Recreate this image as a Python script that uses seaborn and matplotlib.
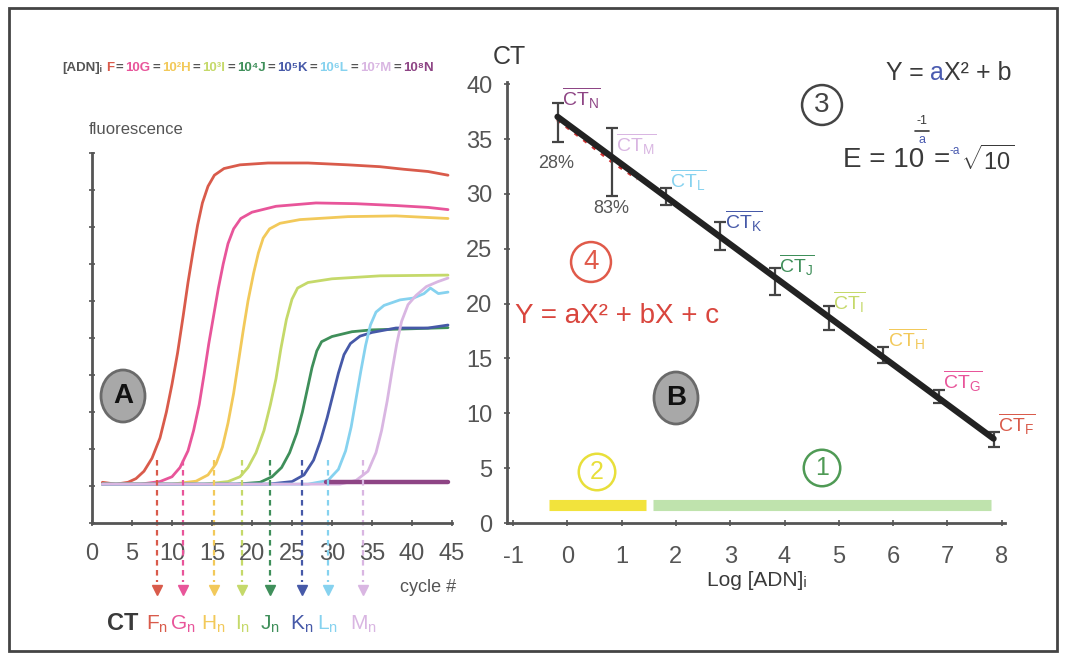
"""
qPCR figure: (A) amplification curves of a dilution series,
(B) standard curve CT vs log[ADN] with linear / quadratic ranges.
"""

import matplotlib

matplotlib.use("Agg")
import matplotlib.pyplot as plt
import pandas as pd
import seaborn as sns
from matplotlib.lines import Line2D
from matplotlib.patches import Ellipse, Rectangle
from matplotlib.text import Annotation

W, H = 1065, 656

# --- panel A: amplification curves (cycle, fluorescence) ---
F_cyc = [1.3, 3.0, 4.5, 5.5, 6.5, 7.5, 8.5, 9.3, 10.0, 10.7, 11.4, 12.0, 12.6, 13.2,
         13.8, 14.5, 15.3, 16.5, 18.5, 22, 27, 32, 36, 39, 42, 44.5]
F_flu = [11.0, 10.5, 11.0, 12.0, 14.0, 17.5, 23.0, 30.0, 37.5, 46.0, 56.0, 65.0, 73.0, 80.5,
         86.5, 91.0, 94.0, 95.8, 96.8, 97.3, 97.3, 96.8, 96.3, 95.6, 95.0, 94.0]
G_cyc = [1.3, 6, 8.5, 10, 11, 12, 12.7, 13.4, 14.0, 14.6, 15.2, 15.8, 16.4, 17.0,
         17.7, 18.6, 20, 23, 28, 33, 38, 42, 44.5]
G_flu = [10.5, 10.5, 11.2, 12.5, 15.0, 19.5, 25.0, 32.0, 40.0, 48.5, 56.0, 63.5, 70.0, 75.5,
         79.5, 82.3, 84.0, 85.6, 86.5, 86.3, 85.8, 85.3, 84.7]
H_cyc = [1.3, 10, 13, 14.5, 15.5, 16.3, 17.0, 17.7, 18.3, 18.9, 19.5, 20.2, 20.8, 21.4,
         22.2, 23.5, 26, 32, 38, 44.5]
H_flu = [10.5, 10.5, 11.3, 13.0, 16.0, 20.5, 27.0, 35.0, 43.5, 52.0, 60.0, 67.5, 73.0, 77.0,
         79.5, 81.0, 82.0, 82.8, 83.0, 82.3]
I_cyc = [1.3, 14, 17, 18.5, 19.5, 20.5, 21.5, 22.3, 23.0, 23.6, 24.3, 25.0, 25.7, 27,
         30, 36, 44.5]
I_flu = [10.5, 10.5, 11.2, 12.5, 15.0, 19.0, 25.0, 32.0, 39.0, 47.0, 55.0, 60.5, 63.5, 65.0,
         66.0, 66.8, 67.0]
J_cyc = [1.3, 18, 21, 22.5, 23.7, 24.7, 25.6, 26.3, 26.9, 27.5, 28.1, 28.7, 30, 32.5,
         35, 40, 44.5]
J_flu = [10.5, 10.5, 11.0, 12.5, 15.0, 19.0, 24.3, 30.0, 36.0, 42.0, 46.5, 49.0, 50.4, 51.7,
         52.2, 52.5, 52.8]
K_cyc = [1.3, 22, 25, 26.5, 27.7, 28.6, 29.4, 30.1, 30.8, 31.5, 32.3, 33.5, 35, 38,
         42, 44.5]
K_flu = [10.5, 10.5, 11.2, 13.0, 17.0, 22.5, 28.5, 34.5, 40.5, 45.5, 48.5, 50.5, 51.5, 52.7,
         52.7, 53.5]
L_cyc = [1.3, 27, 29.5, 30.8, 31.7, 32.4, 33.0, 33.6, 34.2, 34.8, 35.5, 36.5, 38.5, 40.2,
         41.5, 42.3, 43.3, 44.5]
L_flu = [10.5, 10.5, 11.5, 14.5, 19.5, 26.0, 33.5, 41.0, 48.0, 53.5, 57.0, 58.8, 60.3, 60.8,
         62.0, 63.5, 62.0, 62.4]
M_cyc = [1.3, 31, 33, 34.5, 35.5, 36.2, 36.9, 37.5, 38.1, 38.7, 39.5, 40.5, 41.8, 43.2, 44.5]
M_flu = [10.5, 10.5, 11.5, 14.0, 19.0, 25.0, 33.0, 41.0, 48.5, 54.5, 59.0, 61.5, 63.9, 65.2, 66.2]
N_cyc = [29.3, 44.5]
N_flu = [11.0, 11.0]

tubes = ["F", "G", "H", "I", "J", "K", "L", "M", "N"]
tube_colors = {
    "F": "#d95b4b", "G": "#e8559a", "H": "#f2c95a", "I": "#c5d96a", "J": "#3f8f5a",
    "K": "#4659a8", "L": "#86d2ef", "M": "#d9b6e2", "N": "#8e4585",
}

# threshold cycles marked by the dashed arrows
ct_tubes = ["F", "G", "H", "I", "J", "K", "L", "M"]
ct_cycles = [8.1, 11.4, 15.2, 18.8, 22.2, 26.2, 29.5, 33.9]

# header: dilution series
header_terms = ["F", "10G", "10²H", "10³I", "10⁴J", "10⁵K", "10⁶L", "10⁷M", "10⁸N"]

# --- panel B: standard curve ---
log_adn = [7.85, 6.85, 5.82, 4.82, 3.82, 2.82, 1.82, 0.82, -0.18]
ct_mean = [7.6, 11.5, 15.3, 18.7, 22.1, 26.1, 29.8, 33.1, 37.3]
ct_err_low = [0.7, 0.6, 0.7, 1.1, 1.3, 1.2, 0.8, 3.3, 2.6]
ct_err_high = [0.7, 0.6, 0.7, 1.1, 1.1, 1.3, 0.7, 2.9, 1.0]
quad_x = [-0.18, 0.3, 0.82, 1.3]
quad_y = [36.8, 35.0, 33.0, 31.4]
quad_range = [-0.33, 1.45]
lin_range = [1.57, 7.8]
range_ct = 1.6

GRAY = "#555555"
DARK = "#3a3a3a"
BLUE_A = "#4a5bb0"


def px(x, y):
    """pixel position in the 1065x656 picture -> figure fraction"""
    return x / W, 1 - y / H


def chain(fig, x, y, parts, size, gaps, weight="normal"):
    """write coloured pieces of text one after the other on one line"""
    prev = fig.text(*px(x, y), parts[0][0], color=parts[0][1], fontsize=size,
                    ha="left", va="center", fontweight=weight)
    for (txt, col), gap in zip(parts[1:], gaps):
        ann = Annotation(txt, xy=(1, 0), xycoords=prev, xytext=(gap, 0),
                         textcoords="offset pixels", ha="left", va="bottom",
                         color=col, fontsize=size, fontweight=weight)
        fig.add_artist(ann)
        prev = ann


def badge(fig, x, y, letter):
    fig.add_artist(Ellipse(px(x, y), 44 / W, 52 / H, transform=fig.transFigure,
                           fc="#a8a8a8", ec="#6a6a6a", lw=2))
    fig.text(*px(x, y), letter, ha="center", va="center", fontsize=20,
             fontweight="bold", color="#111111")


def circled(fig, x, y, num, color, size=18):
    fig.text(*px(x, y), num, ha="center", va="center", fontsize=size, color=color,
             bbox=dict(boxstyle="circle,pad=0.25", fc="none", ec=color, lw=1.8))


def main():
    sns.set_theme(style="white")
    plt.rcParams["font.family"] = ["Liberation Sans", "DejaVu Sans"]
    plt.rcParams["mathtext.fontset"] = "custom"
    plt.rcParams["mathtext.rm"] = "Liberation Sans"
    plt.rcParams["mathtext.it"] = "Liberation Sans"
    plt.rcParams["axes.unicode_minus"] = False

    fig = plt.figure(figsize=(W / 100, H / 100), dpi=100)
    fig.patch.set_facecolor("white")

    axA = fig.add_axes([92 / W, 1 - 523 / H, 360 / W, 370 / H])
    axB = fig.add_axes([507 / W, 1 - 523 / H, 498 / W, 441 / H])

    # ---------------- panel A ----------------
    cycles = [F_cyc, G_cyc, H_cyc, I_cyc, J_cyc, K_cyc, L_cyc, M_cyc, N_cyc]
    fluos = [F_flu, G_flu, H_flu, I_flu, J_flu, K_flu, L_flu, M_flu, N_flu]
    curves = pd.concat(
        [pd.DataFrame({"cycle": c, "fluo": f, "tube": t}) for t, c, f in zip(tubes, cycles, fluos)],
        ignore_index=True,
    )
    sns.lineplot(data=curves, x="cycle", y="fluo", hue="tube", palette=tube_colors,
                 estimator=None, sort=False, legend=False, lw=2, ax=axA)
    axA.lines[-1].set_linewidth(3.2)

    axA.set_xlim(0, 45)
    axA.set_ylim(0, 100)
    axA.set_xticks(range(0, 46, 5))
    axA.set_yticks(range(0, 101, 10))
    axA.set_yticklabels([])
    axA.set_xlabel("")
    axA.set_ylabel("")

    for t, c in zip(ct_tubes, ct_cycles):
        col = tube_colors[t]
        axA.plot([c, c], [17, -16], ls=(0, (2.5, 2)), color=col, lw=1.6, clip_on=False)
        axA.plot(c, -18, marker="v", ms=7, color=col, clip_on=False)
        axA.text(c, -27.5, rf"$\mathrm{{{t}}}_\mathrm{{n}}$", ha="center", va="center",
                 color=col, fontsize=15, clip_on=False)

    fig.text(*px(123, 623), "CT", ha="center", va="center", fontsize=17,
             fontweight="bold", color=DARK)
    fig.text(*px(456, 587), "cycle #", ha="right", va="center", fontsize=13, color=GRAY)
    fig.text(*px(89, 130), "fluorescence", ha="left", va="center", fontsize=12, color=GRAY)

    parts = [("[ADN]ᵢ", GRAY)]
    for i, term in enumerate(header_terms):
        if i > 0:
            parts.append(("=", GRAY))
        parts.append((term, tube_colors[term[-1]]))
    chain(fig, 62, 68, parts, 9.5, [4] + [2] * (len(parts) - 2), weight="bold")

    badge(fig, 123, 396, "A")

    # ---------------- panel B ----------------
    axB.errorbar(log_adn, ct_mean, yerr=[ct_err_low, ct_err_high], fmt="none",
                 ecolor="#444444", elinewidth=1.6, capsize=4, capthick=1.6, zorder=3)
    sns.regplot(x=log_adn, y=ct_mean, scatter=False, ci=None, color="#222222",
                line_kws=dict(lw=4.5, zorder=4), ax=axB)
    axB.plot(quad_x, quad_y, color="#d03030", lw=3, ls=":", zorder=2)

    axB.plot(quad_range, [range_ct, range_ct], color="#f2e33c", lw=8, solid_capstyle="butt")
    axB.plot(lin_range, [range_ct, range_ct], color="#bfe3ad", lw=8, solid_capstyle="butt")

    for t, x, y in zip(tubes, log_adn, ct_mean):
        axB.annotate(rf"$\overline{{\mathrm{{CT}}_\mathrm{{{t}}}}}$", (x, y),
                     xytext=(3, 2), textcoords="offset points", ha="left", va="bottom",
                     color=tube_colors[t], fontsize=14)

    axB.set_xlim(-1.11, 8.06)
    axB.set_ylim(0, 40.2)
    axB.set_xticks(range(-1, 9))
    axB.set_yticks(range(0, 41, 5))

    fig.text(*px(509, 57), "CT", ha="center", va="center", fontsize=18, color=DARK)
    fig.text(*px(757, 580), "Log [ADN]ᵢ", ha="center", va="center", fontsize=15, color=DARK)
    fig.text(*px(556, 163), "28%", ha="center", va="center", fontsize=13, color=GRAY)
    fig.text(*px(611, 208), "83%", ha="center", va="center", fontsize=13, color=GRAY)

    circled(fig, 822, 105, "3", "#444444", 20)
    circled(fig, 591, 262, "4", "#e05a4a", 20)
    circled(fig, 597, 472, "2", "#e8df3a", 18)
    circled(fig, 822, 468, "1", "#4f9a55", 18)

    fig.text(*px(515, 316), "Y = aX² + bX + c", ha="left", va="center", fontsize=20,
             color="#d9463e")

    chain(fig, 886, 73, [("Y =", DARK), ("a", BLUE_A), ("X² + b", DARK)], 18, [6, 0])

    fig.text(*px(843, 160), "E = 10", ha="left", va="center", fontsize=20, color=DARK)
    fig.text(*px(922, 121), "-1", ha="center", va="center", fontsize=9, color=DARK)
    fig.add_artist(Line2D([px(915, 0)[0], px(929, 0)[0]], [px(0, 131)[1]] * 2,
                          color=DARK, lw=1.2))
    fig.text(*px(922, 140), "a", ha="center", va="center", fontsize=9, color=BLUE_A)
    fig.text(*px(934, 160), "=", ha="left", va="center", fontsize=20, color=DARK)
    fig.text(*px(950, 151), "-a", ha="left", va="center", fontsize=8.5, color=BLUE_A)
    fig.text(*px(961, 160), r"$\sqrt{10}$", ha="left", va="center", fontsize=17, color=DARK)

    badge(fig, 676, 398, "B")

    # ---------------- shared styling ----------------
    for ax in (axA, axB):
        sns.despine(ax=ax)
        ax.set_facecolor("none")
        for side in ("left", "bottom"):
            ax.spines[side].set_color(GRAY)
            ax.spines[side].set_linewidth(2)
        ax.tick_params(direction="inout", length=5, width=1.2, color=GRAY,
                       labelsize=17, labelcolor=GRAY, pad=8, left=True, bottom=True)
    axA.tick_params(axis="x", pad=12)
    axB.tick_params(axis="x", pad=14)

    fig.add_artist(Rectangle(px(9, 651), 1048 / W, 643 / H, transform=fig.transFigure,
                             fill=False, ec="#444444", lw=2))

    fig.savefig("out.png", dpi=100, facecolor="white")


if __name__ == "__main__":
    main()
